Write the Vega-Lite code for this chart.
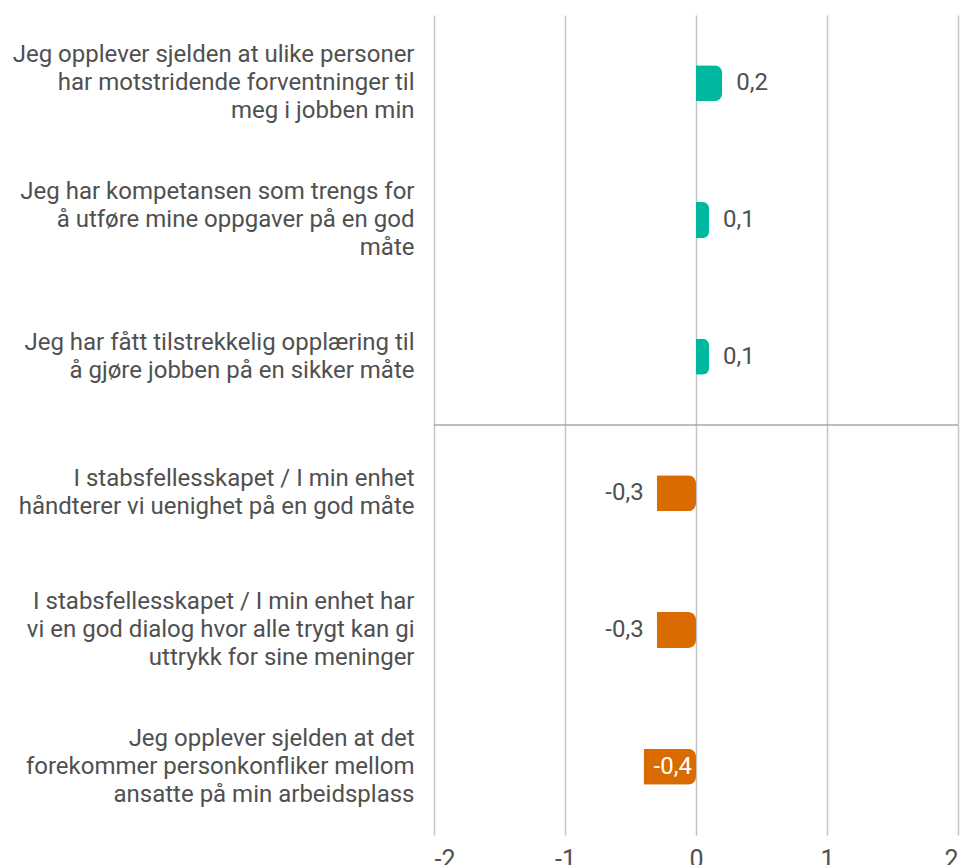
{
  "$schema": "https://vega.github.io/schema/vega-lite/v6.json",
  "autosize": {"type": "none"},
  "width": 524,
  "height": 820,
  "padding": {"left": 434, "top": 15, "right": 4, "bottom": 30},
  "background": "white",
  "config": {
    "font": "Roboto",
    "view": {"stroke": null}
  },
  "data": {
    "values": [
      {"q": "Jeg opplever sjelden at ulike personer|har motstridende forventninger til|meg i jobben min", "value": 0.2},
      {"q": "Jeg har kompetansen som trengs for|å utføre mine oppgaver på en god|måte", "value": 0.1},
      {"q": "Jeg har fått tilstrekkelig opplæring til|å gjøre jobben på en sikker måte", "value": 0.1},
      {"q": "I stabsfellesskapet / I min enhet|håndterer vi uenighet på en god måte", "value": -0.3},
      {"q": "I stabsfellesskapet / I min enhet har|vi en god dialog hvor alle trygt kan gi|uttrykk for sine meninger", "value": -0.3},
      {"q": "Jeg opplever sjelden at det|forekommer personkonfliker mellom|ansatte på min arbeidsplass", "value": -0.4}
    ]
  },
  "transform": [
    {"calculate": "replace(toString(datum.value), '.', ',')", "as": "lbl"}
  ],
  "encoding": {
    "y": {
      "field": "q",
      "type": "nominal",
      "sort": null,
      "scale": {"paddingInner": 0, "paddingOuter": 0},
      "axis": {
        "title": null,
        "ticks": false,
        "domain": false,
        "grid": false,
        "labelExpr": "split(datum.label, '|')",
        "labelFontSize": 24,
        "labelFontWeight": 400,
        "labelLineHeight": 28,
        "labelPadding": 20,
        "labelColor": "#505050",
        "labelLimit": 0,
        "labelFont": "Roboto",
        "labelOffset": {
          "condition": {"test": "length(split(datum.value, '|')) == 3", "value": -28},
          "value": -14
        }
      }
    }
  },
  "layer": [
    {
      "mark": {"type": "bar", "size": 36, "cornerRadiusEnd": 8},
      "encoding": {
        "x": {
          "field": "value",
          "type": "quantitative",
          "scale": {"domain": [-2, 2], "nice": false},
          "axis": {
            "title": null,
            "values": [-2, -1, 0, 1, 2],
            "ticks": false,
            "domain": false,
            "grid": true,
            "gridColor": "#c4c4c4",
            "gridWidth": 1.5,
            "labelExpr": "'' + datum.value",
            "labelFontSize": 25,
            "labelFontWeight": 400,
            "labelPadding": 12,
            "labelColor": "#505050",
            "labelFont": "Roboto"
          }
        },
        "color": {
          "condition": {"test": "datum.value >= 0", "value": "#00b8a0"},
          "value": "#d96b00"
        }
      }
    },
    {
      "transform": [{"filter": "datum.value >= 0"}],
      "mark": {"type": "text", "align": "left", "dx": 14, "fontSize": 24, "color": "#505050", "font": "Roboto"},
      "encoding": {
        "x": {"field": "value", "type": "quantitative"},
        "text": {"field": "lbl"}
      }
    },
    {
      "transform": [{"filter": "datum.value < 0 && datum.value > -0.35"}],
      "mark": {"type": "text", "align": "right", "dx": -13, "fontSize": 24, "color": "#505050", "font": "Roboto"},
      "encoding": {
        "x": {"field": "value", "type": "quantitative"},
        "text": {"field": "lbl"}
      }
    },
    {
      "transform": [{"filter": "datum.value <= -0.35"}],
      "mark": {"type": "text", "align": "left", "dx": 10, "fontSize": 24, "color": "white", "font": "Roboto"},
      "encoding": {
        "x": {"field": "value", "type": "quantitative"},
        "text": {"field": "lbl"}
      }
    },
    {
      "transform": [{"filter": "indexof(datum.q, 'håndterer') >= 0"}],
      "mark": {"type": "rule", "color": "#a8a8a8", "strokeWidth": 1.5},
      "encoding": {
        "y": {"field": "q", "type": "nominal", "sort": null, "bandPosition": 0},
        "x": {"datum": -2},
        "x2": {"datum": 2}
      }
    },
    {
      "mark": {"type": "rule", "color": "#a6a6a6", "strokeWidth": 3},
      "encoding": {
        "x": {"datum": 0}
      }
    }
  ]
}
